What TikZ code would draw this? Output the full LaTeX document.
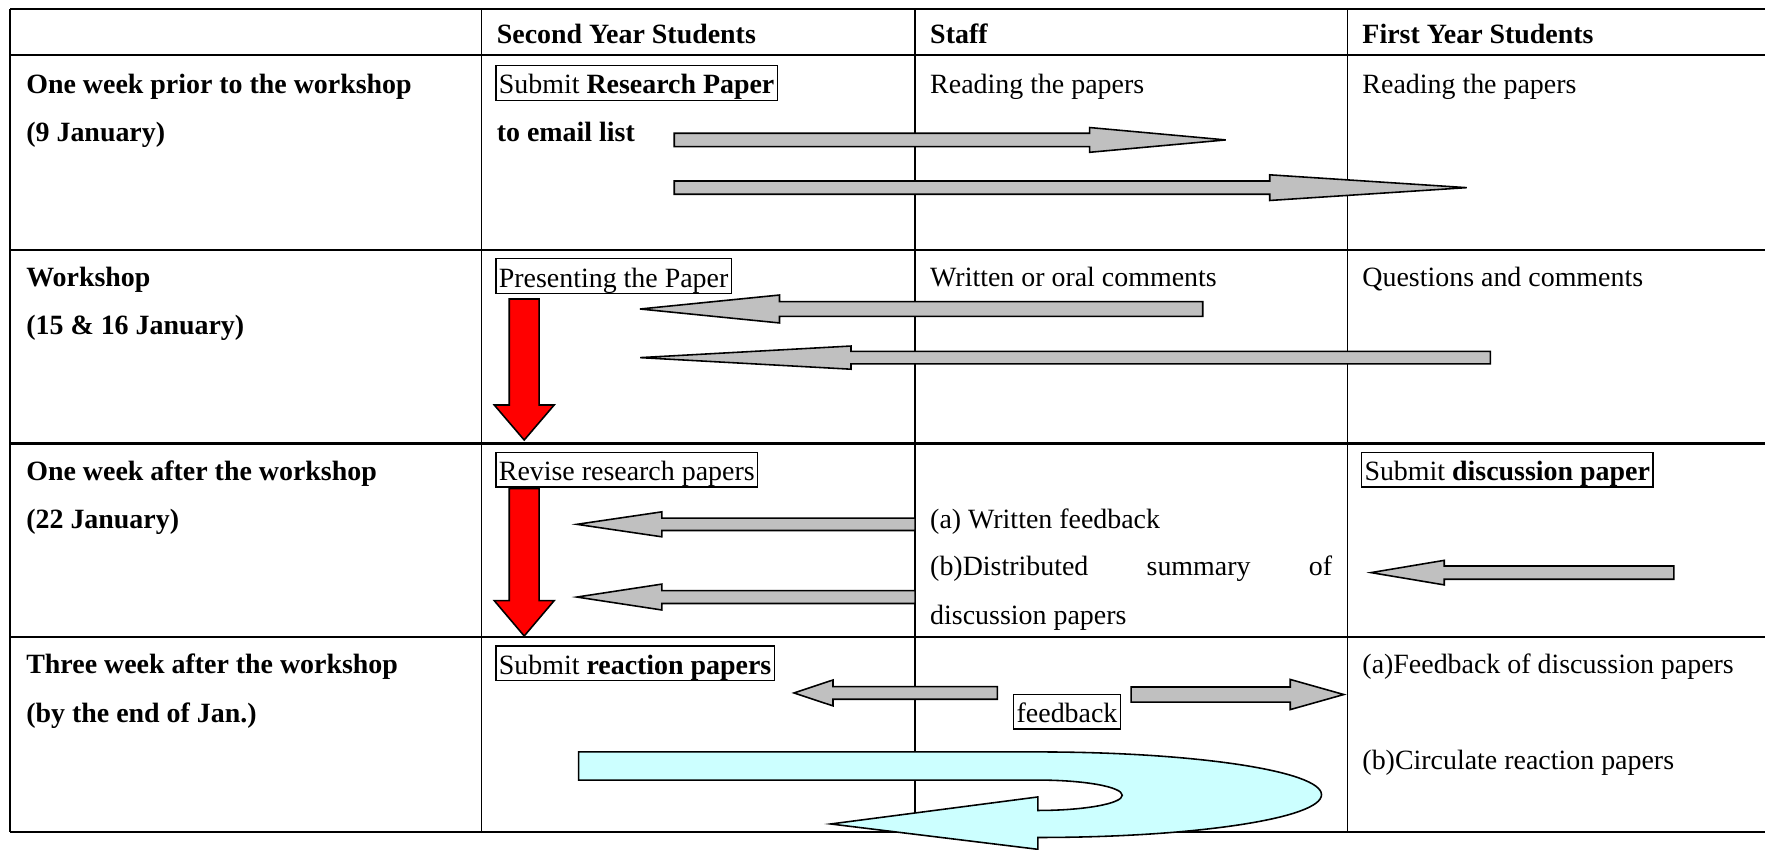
\documentclass[tikz,border=0pt]{standalone}
\usepackage{fontspec}
\setmainfont{Liberation Serif}
\definecolor{arrowgray}{HTML}{C0C0C0}
\definecolor{lightcyan}{HTML}{CCFFFF}
\newcommand{\harrow}[7]{%
  \draw[#1] (#2,#5-#6) -- (#3,#5-#6) -- (#3,#5-#7) -- (#4,#5) -- (#3,#5+#7) -- (#3,#5+#6) -- (#2,#5+#6) -- cycle;}
\newcommand{\varrow}[7]{%
  \draw[#1] (#5-#6,#2) -- (#5-#6,#3) -- (#5-#7,#3) -- (#5,#4) -- (#5+#7,#3) -- (#5+#6,#3) -- (#5+#6,#2) -- cycle;}
\begin{document}
\begin{tikzpicture}[x=0.5pt,y=-0.5pt,
  txt/.style={font=\fontsize{12.4}{14}\selectfont, inner sep=0pt, anchor=base west},
  lbl/.style={txt, font=\fontsize{12.4}{14}\selectfont\bfseries},
  boxed/.style={txt, draw, line width=0.6pt, inner xsep=1.3pt, inner ysep=0.3pt, text height=12.3pt, text depth=2.5pt},
  hline/.style={line width=1.1pt},
  vline/.style={line width=0.6pt},
  grayarrow/.style={draw=black, fill=arrowgray, line width=0.7pt},
  redarrow/.style={draw=black, fill=red, line width=0.7pt},
  cyanarrow/.style={draw=black, fill=lightcyan, line width=0.7pt}]
\useasboundingbox (0,0) rectangle (1568,755);
% table
\foreach \yy in {8,49,222,394,566,739} \draw[hline] (9,\yy) -- (1570,\yy);
\draw[hline] (9,8) -- (9,739);
\foreach \xx in {428,813,1197} \draw[vline] (\xx,8) -- (\xx,739);
% header
\node[lbl] (h1) at (441,38.5) {Second Year Students};
\node[lbl] (h2) at (826,38.5) {Staff};
\node[lbl] (h3) at (1210,38.5) {First Year Students};
% row 1
\node[lbl] (r1a) at (23,83.5) {One week prior to the workshop};
\node[lbl] (r1b) at (23,125.5) {(9 January)};
\node[boxed] (r1s) at (440,83.5) {Submit \textbf{Research Paper}};
\node[lbl] (r1e) at (441,125.5) {to email list};
\node[txt] (r1st) at (826,83.5) {Reading the papers};
\node[txt] (r1fy) at (1210,83.5) {Reading the papers};
% row 2
\node[lbl] (r2a) at (23,254.5) {Workshop};
\node[lbl] (r2b) at (23,297.5) {(15 \& 16 January)};
\node[boxed] (r2s) at (440,255) {Presenting the Paper};
\node[txt] (r2st) at (826,254.5) {Written or oral comments};
\node[txt] (r2fy) at (1210,254.5) {Questions and comments};
% row 3
\node[lbl] (r3a) at (23,426.5) {One week after the workshop};
\node[lbl] (r3b) at (23,469.5) {(22 January)};
\node[boxed] (r3s) at (440,427) {Revise research papers};
\node[txt] (r3st1) at (826,469.5) {(a) Written feedback};
\node[txt] (r3st2) at (826,511.5) {\hbox to 178.5pt{(b)Distributed\hfill summary\hfill of}};
\node[txt] (r3st3) at (826,554.5) {discussion papers};
\node[boxed] (r3fy) at (1209,427) {Submit \textbf{discussion paper}};
% row 4
\node[lbl] (r4a) at (23,598.5) {Three week after the workshop};
\node[lbl] (r4b) at (23,641.5) {(by the end of Jan.)};
\node[boxed] (r4s) at (440,599) {Submit \textbf{reaction papers}};
\node[boxed] (fb) at (900,642) {feedback};
\node[txt] (r4fy1) at (1210,598.5) {(a)Feedback of discussion papers};
\node[txt] (r4fy2) at (1210,683.5) {(b)Circulate reaction papers};
% arrows row 1
\harrow{grayarrow}{599}{968}{1089}{124.3}{5.9}{11}
\harrow{grayarrow}{599}{1128}{1303}{166.7}{5.9}{11.4}
% arrows row 2
\harrow{grayarrow}{1068.5}{692.5}{568.6}{274.5}{6.6}{12.4}
\harrow{grayarrow}{1324}{756}{568.6}{317.7}{5.5}{10.3}
\varrow{redarrow}{265.6}{359.8}{390.9}{465.7}{13.3}{26.6}
% arrows row 3
\harrow{grayarrow}{813}{588}{512.5}{465.8}{5.5}{11.1}
\harrow{grayarrow}{813}{588}{512.5}{530.4}{5.7}{11.5}
\harrow{grayarrow}{1487}{1283}{1218}{508.7}{5.9}{10.9}
\varrow{redarrow}{434}{533.6}{565}{465.7}{13.3}{26.6}
% arrows row 4
\harrow{grayarrow}{886}{740}{705.3}{615.6}{5.6}{11.5}
\harrow{grayarrow}{1004.8}{1146.2}{1193.8}{617}{6.7}{13.4}
% U-turn arrow
\draw[cyanarrow] (514,668) -- (922,668)
  .. controls (1061.2,668) and (1174,685) .. (1174,706)
  .. controls (1174,727) and (1061.2,744) .. (922,744)
  -- (922,754.5) -- (738,732) -- (922,708) -- (922,720)
  .. controls (963.4,720) and (997,713.9) .. (997,706.5)
  .. controls (997,699) and (963.4,693) .. (922,693)
  -- (514,693) -- cycle;
\end{tikzpicture}
\end{document}
